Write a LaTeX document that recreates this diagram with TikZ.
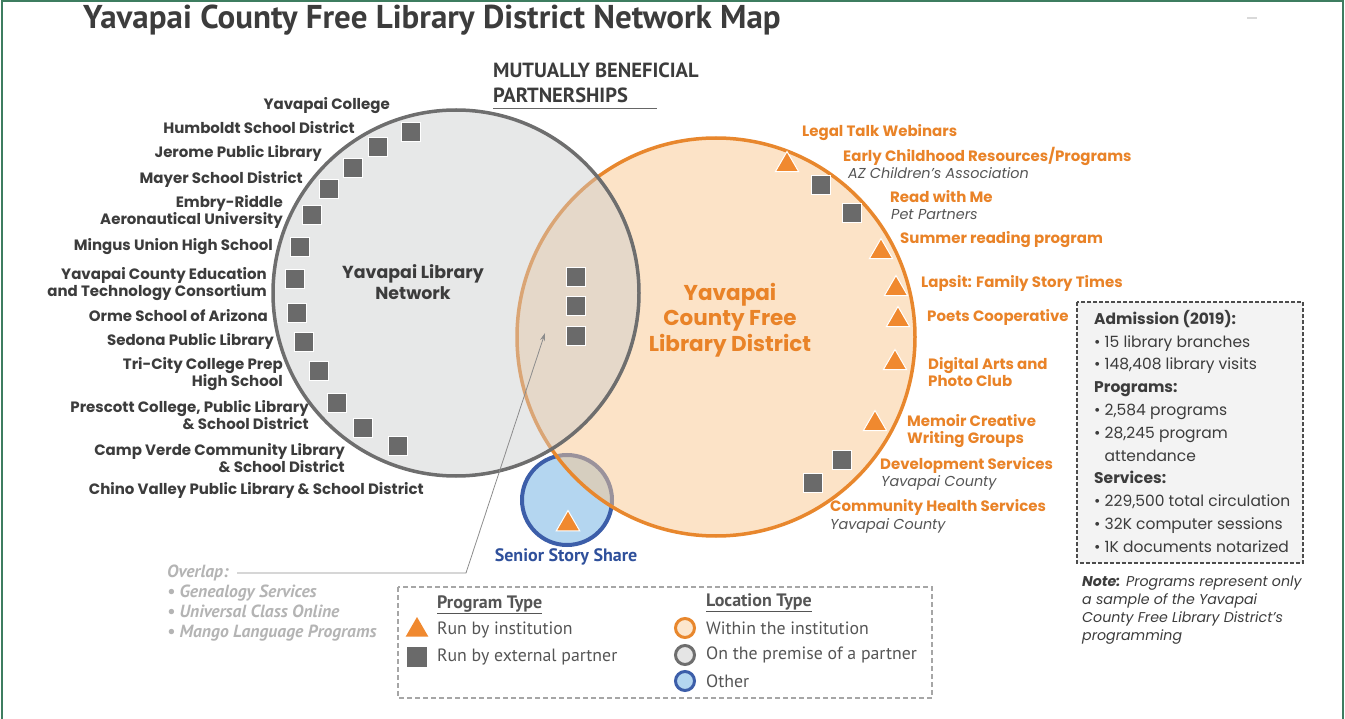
\documentclass[tikz,border=0pt]{standalone}
\usepackage{fontspec}
\setmainfont{Poppins}
\newfontfamily\narrowfont{PT Sans}
\usetikzlibrary{shapes.geometric,arrows.meta}

\definecolor{framegreen}{RGB}{62,125,96}
\definecolor{labgray}{RGB}{60,60,60}
\definecolor{sqgray}{RGB}{106,106,106}
\definecolor{triorange}{RGB}{240,137,47}
\definecolor{txtorange}{RGB}{233,131,40}
\definecolor{ringorange}{RGB}{232,135,45}
\definecolor{peach}{RGB}{249,199,143}
\definecolor{ringgray}{RGB}{110,110,110}
\definecolor{libgray}{RGB}{202,203,205}
\definecolor{ringblue}{RGB}{60,94,169}
\definecolor{skyblue}{RGB}{180,214,240}
\definecolor{txtblue}{RGB}{47,80,155}
\definecolor{subgray}{RGB}{85,85,85}
\definecolor{ovlgray}{RGB}{180,180,180}
\definecolor{boxgray}{RGB}{243,243,243}

\begin{document}
\begin{tikzpicture}[x=1pt,y=-1pt,
    partner/.style={rectangle,fill=sqgray,draw=white,line width=1pt,minimum size=19pt,inner sep=0pt},
    own/.style={regular polygon,regular polygon sides=3,fill=triorange,draw=white,line width=1pt,minimum size=27pt,inner sep=0pt},
    leftlab/.style={anchor=east,align=right,inner sep=0pt,text=labgray,font=\bfseries\fontsize{15}{16.5}\selectfont},
    rightlab/.style={anchor=west,align=left,inner sep=0pt,text=txtorange,font=\bfseries\fontsize{15}{17.5}\selectfont},
    sublab/.style={anchor=west,inner sep=0pt,text=subgray,font=\itshape\fontsize{14.4}{16}\selectfont},
    legtext/.style={anchor=west,inner sep=0pt,text=subgray,font=\narrowfont\fontsize{17.8}{20}\selectfont},
    legring/.style={circle,line width=3pt,minimum size=19pt,inner sep=0pt}]
\useasboundingbox (0,0) rectangle (1345,719);

% frame
\draw[framegreen,line width=1.5pt] (2,719) -- (2,1) -- (1343,1) -- (1343,719);
\draw[black!15,line width=1.2pt] (1247,18) -- (1257,18);

% title
\node[anchor=west,inner sep=0pt,text=labgray,font=\narrowfont\bfseries\fontsize{33}{35}\selectfont] (title) at (83,20) {Yavapai County Free Library District Network Map};
\node[anchor=north west,align=left,inner sep=0pt,text=labgray,font=\narrowfont\bfseries\fontsize{20.5}{25}\selectfont] (mutual) at (493,63) {MUTUALLY BENEFICIAL\\PARTNERSHIPS};
\draw[black!60,line width=0.8pt] (493,108) -- (657,108);

% circles
\filldraw[fill=skyblue,draw=ringblue,line width=4pt] (567,500) circle (45);
\filldraw[fill=peach,fill opacity=0.5,draw=ringorange,line width=3.5pt] (716,337) circle (199);
\filldraw[fill=libgray,fill opacity=0.45,draw=ringgray,line width=3.5pt] (456,293) circle (183);

\node[align=center,inner sep=0pt,text=labgray,font=\bfseries\fontsize{17.4}{21}\selectfont] (network) at (413,282) {Yavapai Library\\Network};
\node[align=center,inner sep=0pt,text=txtorange,font=\bfseries\fontsize{21.5}{25.5}\selectfont] (district) at (730,320) {Yavapai\\County Free\\Library District};

% partners on the premise of a partner
\node[partner] (p1) at (411,132) {};
\node[partner] (p2) at (378,147) {};
\node[partner] (p3) at (353,168) {};
\node[partner] (p4) at (329,189) {};
\node[partner] (p5) at (312,215) {};
\node[partner] (p6) at (300,247) {};
\node[partner] (p7) at (295,279) {};
\node[partner] (p8) at (297,313) {};
\node[partner] (p9) at (304,342) {};
\node[partner] (p10) at (319,371) {};
\node[partner] (p11) at (337,403) {};
\node[partner] (p12) at (363,428) {};
\node[partner] (p13) at (398,446) {};

\node[leftlab] (college) at (390,106) {Yavapai College};
\node[leftlab] (humboldt) at (355,128) {Humboldt School District};
\node[leftlab] (jerome) at (322,153) {Jerome Public Library};
\node[leftlab] (mayer) at (303,179) {Mayer School District};
\node[leftlab] (embry) at (283,212) {Embry-Riddle\\Aeronautical University};
\node[leftlab] (mingus) at (273,247) {Mingus Union High School};
\node[leftlab] (consort) at (267,284) {Yavapai County Education\\and Technology Consortium};
\node[leftlab] (orme) at (268,316) {Orme School of Arizona};
\node[leftlab] (sedona) at (274,341) {Sedona Public Library};
\node[leftlab] (tricity) at (283,374) {Tri-City College Prep\\High School};
\node[leftlab] (prescott) at (309,415) {Prescott College, Public Library\\\& School District};
\node[leftlab] (campverde) at (345,458) {Camp Verde Community Library\\\& School District};
\node[leftlab] (chino) at (424,490) {Chino Valley Public Library \& School District};

% overlap
\node[partner] (o1) at (576,277) {};
\node[partner] (o2) at (576,306) {};
\node[partner] (o3) at (576,336) {};

% within the institution
\node[own] (t1) at (787,165) {};
\node[partner] (s1) at (821,185) {};
\node[partner] (s2) at (852,213) {};
\node[own] (t2) at (881,252) {};
\node[own] (t3) at (896,289) {};
\node[own] (t4) at (898,320) {};
\node[own] (t5) at (895,363) {};
\node[own] (t6) at (875,424) {};
\node[partner] (s3) at (842,460) {};
\node[partner] (s4) at (813,483) {};

\node[rightlab] (legal) at (802,133) {Legal Talk Webinars};
\node[rightlab] (early) at (843,156) {Early Childhood Resources/Programs};
\node[sublab] (azca) at (848,173) {AZ Children’s Association};
\node[rightlab] (readme) at (890,197) {Read with Me};
\node[sublab] (pets) at (891,215) {Pet Partners};
\node[rightlab] (summer) at (900,240) {Summer reading program};
\node[rightlab] (lapsit) at (921,283) {Lapsit: Family Story Times};
\node[rightlab] (poets) at (927,317) {Poets Cooperative};
\node[rightlab] (digital) at (928,372) {Digital Arts and\\Photo Club};
\node[rightlab] (memoir) at (907,431) {Memoir Creative\\Writing Groups};
\node[rightlab] (devel) at (880,465) {Development Services};
\node[sublab] (county1) at (881,483) {Yavapai County};
\node[rightlab] (health) at (830,507) {Community Health Services};
\node[sublab] (county2) at (830,526) {Yavapai County};

% other
\node[own] (t7) at (568,524) {};
\node[inner sep=0pt,text=txtblue,font=\narrowfont\bfseries\fontsize{18}{20}\selectfont] (senior) at (566,557) {Senior Story Share};

% overlap list and pointer
\node[anchor=north west,align=left,inner sep=0pt,text=ovlgray,font=\narrowfont\bfseries\itshape\fontsize{17.6}{20}\selectfont] (ovl) at (167,565) {Overlap:\\• Genealogy Services\\• Universal Class Online\\• Mango Language Programs};
\coordinate (bend) at (466,573);
\coordinate (lens) at (545,333);
\draw[black!45,line width=0.8pt,-{Stealth[length=8pt,width=5pt]}] (237,573) -- (bend) -- (lens);

% legend
\draw[black!35,line width=1.2pt,dash pattern=on 5pt off 3pt] (398,587) rectangle (932,698);
\node[legtext,font=\narrowfont\bfseries\fontsize{18}{20}\selectfont] (progtype) at (437,605) {\underline{Program Type}};
\node[own,minimum size=26pt,draw=none] (legtri) at (417,630) {};
\node[legtext] (runinst) at (437,630) {Run by institution};
\node[partner,draw=none,minimum size=20pt] (legsq) at (417,657) {};
\node[legtext] (runpart) at (437,657) {Run by external partner};
\node[legtext,font=\narrowfont\bfseries\fontsize{18}{20}\selectfont] (loctype) at (706,603) {\underline{Location Type}};
\node[legring,draw=ringorange,fill=peach!45] (legin) at (685,628) {};
\node[legtext] (within) at (706,628) {Within the institution};
\node[legring,draw=ringgray,fill=black!10] (legprem) at (685,655) {};
\node[legtext] (premise) at (706,655) {On the premise of a partner};
\node[legring,draw=ringblue,fill=skyblue] (legother) at (685,681) {};
\node[legtext] (other) at (706,681) {Other};

% statistics
\draw[black!70,fill=boxgray,line width=1.2pt,dash pattern=on 4pt off 2pt] (1077,302) rectangle (1303,563);
\node[anchor=north west,align=left,inner sep=0pt,text=labgray,font=\fontsize{15.5}{22.8}\selectfont] (stats) at (1094,310) {\textbf{Admission (2019):}\\• 15 library branches\\• 148,408 library visits\\\textbf{Programs:}\\• 2,584 programs\\• 28,245 program\\\phantom{• }attendance\\\textbf{Services:}\\• 229,500 total circulation\\• 32K computer sessions\\• 1K documents notarized};
\node[anchor=north west,align=left,inner sep=0pt,text=labgray,font=\itshape\fontsize{14.2}{18}\selectfont] (note) at (1082,576) {\textbf{Note:} Programs represent only\\a sample of the Yavapai\\County Free Library District’s\\programming};
\end{tikzpicture}
\end{document}
